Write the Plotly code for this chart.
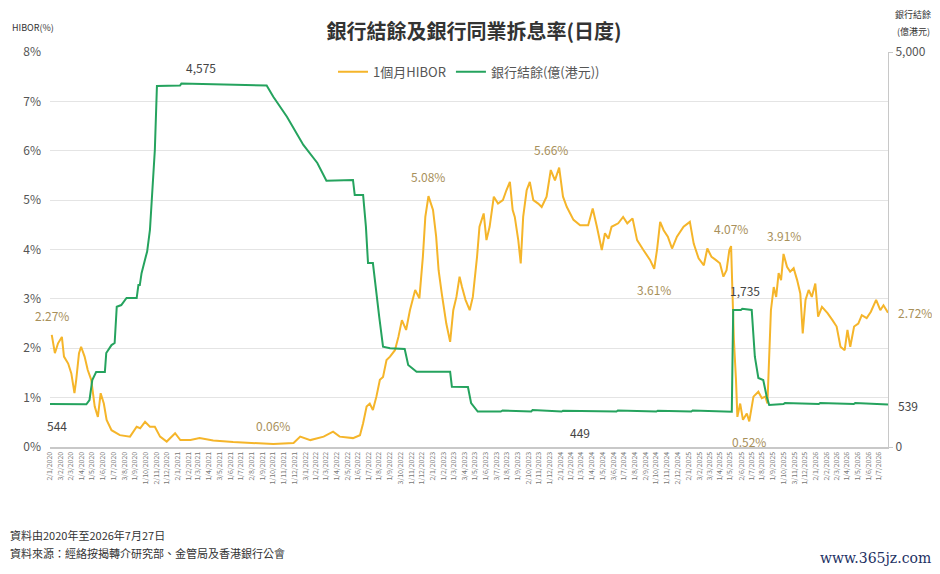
import pandas as pd
import plotly.graph_objects as go

# 1個月HIBOR (%)
hibor_dates = [
    "2020-01-07", "2020-01-16", "2020-01-25", "2020-02-05", "2020-02-11", "2020-02-23",
    "2020-03-03", "2020-03-12", "2020-03-17", "2020-03-25", "2020-03-31", "2020-04-10",
    "2020-04-19", "2020-04-29", "2020-05-09", "2020-05-18", "2020-05-26", "2020-06-04",
    "2020-06-12", "2020-06-26", "2020-07-20", "2020-08-18", "2020-09-06", "2020-09-16",
    "2020-09-30", "2020-10-14", "2020-10-28", "2020-11-12", "2020-12-01", "2020-12-25",
    "2021-01-09", "2021-02-07", "2021-03-05", "2021-04-13", "2021-06-09", "2021-08-15",
    "2021-10-02", "2021-11-29", "2021-12-18", "2022-01-16", "2022-02-23", "2022-03-22",
    "2022-04-10", "2022-05-18", "2022-06-07", "2022-06-16", "2022-06-26", "2022-07-05",
    "2022-07-14", "2022-07-24", "2022-08-03", "2022-08-12", "2022-08-22", "2022-09-01",
    "2022-09-15", "2022-09-25", "2022-10-05", "2022-10-17", "2022-10-28", "2022-11-12",
    "2022-11-24", "2022-12-04", "2022-12-11", "2022-12-20", "2023-01-02", "2023-01-11",
    "2023-01-18", "2023-01-27", "2023-02-09", "2023-02-20", "2023-03-01", "2023-03-10",
    "2023-03-19", "2023-03-26", "2023-04-05", "2023-04-17", "2023-04-26", "2023-05-08",
    "2023-05-15", "2023-05-27", "2023-06-04", "2023-06-13", "2023-06-25", "2023-07-07",
    "2023-07-21", "2023-07-31", "2023-08-10", "2023-08-18", "2023-08-24", "2023-09-03",
    "2023-09-10", "2023-09-17", "2023-09-27", "2023-10-06", "2023-10-16", "2023-10-30",
    "2023-11-09", "2023-11-23", "2023-12-05", "2023-12-17", "2023-12-29", "2024-01-09",
    "2024-01-20", "2024-02-08", "2024-02-27", "2024-03-21", "2024-04-03", "2024-04-15",
    "2024-04-29", "2024-05-08", "2024-05-18", "2024-05-27", "2024-06-15", "2024-06-29",
    "2024-07-11", "2024-07-26", "2024-08-08", "2024-08-26", "2024-09-14", "2024-09-26",
    "2024-10-04", "2024-10-13", "2024-10-23", "2024-11-04", "2024-11-16", "2024-11-30",
    "2024-12-19", "2025-01-06", "2025-01-17", "2025-01-31", "2025-02-15", "2025-02-25",
    "2025-03-09", "2025-03-21", "2025-04-02", "2025-04-12", "2025-04-21", "2025-04-29",
    "2025-05-04", "2025-05-08", "2025-05-12", "2025-05-18", "2025-05-22", "2025-05-30",
    "2025-06-07", "2025-06-18", "2025-06-25", "2025-07-07", "2025-07-21", "2025-07-31",
    "2025-08-10", "2025-08-16", "2025-08-22", "2025-08-26", "2025-09-03", "2025-09-10",
    "2025-09-17", "2025-09-24", "2025-10-01", "2025-10-11", "2025-10-20", "2025-10-30",
    "2025-11-09", "2025-11-18", "2025-11-25", "2025-12-03", "2025-12-12", "2025-12-21",
    "2025-12-31", "2026-01-08", "2026-01-19", "2026-02-04", "2026-02-18", "2026-03-02",
    "2026-03-13", "2026-03-25", "2026-04-02", "2026-04-10", "2026-04-21", "2026-05-03",
    "2026-05-13", "2026-05-27", "2026-06-08", "2026-06-23", "2026-07-05", "2026-07-14",
    "2026-07-27",
]
hibor_values = [
    2.27, 1.90, 2.10, 2.23, 1.83, 1.69,
    1.49, 1.09, 1.36, 1.90, 2.03, 1.83,
    1.56, 1.36, 0.82, 0.61, 1.09, 0.88,
    0.55, 0.34, 0.24, 0.21, 0.41, 0.38,
    0.51, 0.41, 0.41, 0.21, 0.11, 0.28,
    0.14, 0.14, 0.18, 0.13, 0.10, 0.08,
    0.06, 0.08, 0.21, 0.14, 0.21, 0.31,
    0.21, 0.18, 0.24, 0.48, 0.82, 0.88,
    0.75, 1.02, 1.36, 1.42, 1.76, 1.83,
    1.96, 2.23, 2.57, 2.37, 2.77, 3.18,
    3.01, 3.85, 4.66, 5.08, 4.80, 4.26,
    3.58, 3.11, 2.50, 2.13, 2.77, 3.04,
    3.45, 3.24, 2.98, 2.77, 3.04, 3.85,
    4.46, 4.73, 4.19, 4.46, 5.07, 4.93,
    5.00, 5.20, 5.37, 4.80, 4.66, 4.19,
    3.72, 4.66, 5.20, 5.37, 5.00, 4.93,
    4.86, 5.07, 5.61, 5.40, 5.66, 5.07,
    4.86, 4.60, 4.49, 4.49, 4.83, 4.46,
    3.99, 4.33, 4.22, 4.46, 4.53, 4.66,
    4.53, 4.63, 4.19, 3.99, 3.79, 3.61,
    3.99, 4.56, 4.39, 4.26, 4.02, 4.26,
    4.46, 4.56, 4.12, 3.82, 3.68, 4.02,
    3.85, 3.79, 3.72, 3.45, 3.58, 3.99,
    4.07, 3.11, 2.17, 1.36, 0.61, 0.88,
    0.55, 0.68, 0.52, 1.02, 1.12, 0.99,
    1.02, 0.88, 2.30, 2.77, 3.24, 3.04,
    3.52, 3.38, 3.91, 3.65, 3.55, 3.62,
    3.38, 3.11, 2.30, 2.98, 3.18, 3.04,
    3.31, 2.64, 2.84, 2.71, 2.57, 2.44,
    2.03, 1.96, 2.37, 2.03, 2.44, 2.50,
    2.67, 2.61, 2.74, 2.98, 2.77, 2.87,
    2.72,
]

# 銀行結餘 (億港元)
balance_dates = [
    "2020-01-02", "2020-04-15", "2020-04-24", "2020-05-02", "2020-05-13", "2020-06-07",
    "2020-06-11", "2020-06-26", "2020-07-05", "2020-07-11", "2020-07-24", "2020-08-08",
    "2020-09-06", "2020-09-11", "2020-09-15", "2020-09-20", "2020-10-02", "2020-10-06",
    "2020-10-14", "2020-10-21", "2020-10-28", "2020-11-03", "2021-01-08", "2021-01-12",
    "2021-09-13", "2021-10-02", "2021-11-10", "2021-12-27", "2022-02-05", "2022-03-03",
    "2022-05-18", "2022-05-23", "2022-06-16", "2022-06-24", "2022-06-30", "2022-07-14",
    "2022-07-22", "2022-08-01", "2022-08-12", "2022-09-01", "2022-10-13", "2022-10-23",
    "2022-11-16", "2023-02-20", "2023-02-25", "2023-04-12", "2023-04-21", "2023-05-10",
    "2023-07-15", "2023-07-20", "2023-10-10", "2023-10-14", "2024-01-05", "2024-01-09",
    "2024-06-10", "2024-06-14", "2024-10-02", "2024-10-06", "2025-01-10", "2025-01-14",
    "2025-05-06", "2025-05-10", "2025-06-01", "2025-06-05", "2025-07-02", "2025-07-11",
    "2025-07-21", "2025-08-04", "2025-08-14", "2025-08-21", "2025-10-01", "2025-10-05",
    "2026-01-10", "2026-01-14", "2026-04-20", "2026-04-24", "2026-07-27",
]
balance_values = [
    544, 540, 595, 848, 950, 950,
    1190, 1290, 1316, 1776, 1797, 1886,
    1886, 2050, 2050, 2200, 2409, 2473,
    2747, 3215, 3759, 4570, 4575, 4600,
    4575, 4434, 4181, 3823, 3595, 3371,
    3380, 3190, 3190, 2789, 2329, 2329,
    1987, 1650, 1270, 1250, 1240, 1038,
    953, 953, 763, 760, 557, 449,
    449, 462, 449, 468, 449, 460,
    449, 462, 449, 460, 449, 462,
    447, 1734, 1735, 1750, 1735, 1143,
    873, 848, 637, 532, 544, 556,
    544, 558, 544, 556, 539,
]

# monthly date ticks, first business day of each month
tick_dates = []
for d in pd.date_range("2020-01-01", "2026-07-31", freq="BMS"):
    if d.month == 1 and d.day == 1:
        d = d + pd.Timedelta(days=1)
    tick_dates.append(d)
tick_text = [f"{d.day}/{d.month}/{d.year}" for d in tick_dates]

CJK = "Noto Sans CJK TC, Open Sans, sans-serif"
YELLOW = "#F5B52A"
GREEN = "#25A35E"
TAN = "#A8905A"
DARK = "#444444"

fig = go.Figure()
fig.add_trace(go.Scatter(x=hibor_dates, y=hibor_values, name="1個月HIBOR", mode="lines",
                         line=dict(color=YELLOW, width=2)))
fig.add_trace(go.Scatter(x=balance_dates, y=balance_values, name="銀行結餘(億(港元))", mode="lines",
                         line=dict(color=GREEN, width=2), yaxis="y2"))

notes = [
    # x, y, text, yshift, axis, color
    ("2020-01-07", 2.27, "2.27%", 19, "y", TAN),
    ("2021-10-02", 0.06, "0.06%", 19, "y", TAN),
    ("2022-12-20", 5.08, "5.08%", 20, "y", TAN),
    ("2023-12-05", 5.66, "5.66%", 18, "y", TAN),
    ("2024-09-26", 3.61, "3.61%", -21, "y", TAN),
    ("2025-05-04", 4.07, "4.07%", 18, "y", TAN),
    ("2025-10-01", 3.91, "3.91%", 18, "y", TAN),
    ("2025-06-25", 0.52, "0.52%", -20, "y", TAN),
    ("2021-03-10", 4575, "4,575", 18, "y2", DARK),
    ("2020-01-22", 544, "544", -21, "y2", DARK),
    ("2024-02-27", 449, "449", -21, "y2", DARK),
    ("2025-06-13", 1735, "1,735", 19, "y2", DARK),
]
for x, y, t, dy, ax, c in notes:
    fig.add_annotation(x=x, y=y, xref="x", yref=ax, text=t, showarrow=False, yshift=dy,
                       xanchor="center", yanchor="middle",
                       font=dict(size=12, color=c, family=CJK))

# end labels right of the plot
fig.add_annotation(x="2026-07-27", y=2.72, xref="x", yref="y", text="2.72%", showarrow=False,
                   xanchor="left", yanchor="middle", xshift=8,
                   font=dict(size=12, color=TAN, family=CJK))
fig.add_annotation(x="2026-07-27", y=539, xref="x", yref="y2", text="539", showarrow=False,
                   xanchor="left", yanchor="middle", xshift=8, yshift=-1,
                   font=dict(size=12, color=DARK, family=CJK))

# axis titles
fig.add_annotation(x=-0.048, y=1.061, xref="paper", yref="paper", text="HIBOR(%)", showarrow=False,
                   xanchor="left", yanchor="middle", font=dict(size=9, color="#333", family=CJK))
fig.add_annotation(x=1.03, y=1.094, xref="paper", yref="paper", text="銀行結餘",
                   showarrow=False, xanchor="center", yanchor="middle",
                   font=dict(size=9, color="#333", family=CJK))
fig.add_annotation(x=1.03, y=1.051, xref="paper", yref="paper", text="(億港元)",
                   showarrow=False, xanchor="center", yanchor="middle",
                   font=dict(size=9, color="#333", family=CJK))

# footnotes
fig.add_annotation(x=-0.05, y=-0.223, xref="paper", yref="paper", text="資料由2020年至2026年7月27日",
                   showarrow=False, xanchor="left", yanchor="middle",
                   font=dict(size=11, color="#333", family=CJK))
fig.add_annotation(x=-0.05, y=-0.268, xref="paper", yref="paper",
                   text="資料來源：經絡按揭轉介研究部、金管局及香港銀行公會",
                   showarrow=False, xanchor="left", yanchor="middle",
                   font=dict(size=11, color="#333", family=CJK))
fig.add_annotation(x=0.985, y=-0.281, xref="paper", yref="paper", text="www.365jz.com",
                   showarrow=False, xanchor="center", yanchor="middle",
                   font=dict(size=14, color="#233163", family="DejaVu Serif"))

# page body has an 8px margin, so the figure is 8px smaller each way
fig.update_layout(
    width=932, height=566,
    margin=dict(l=42, r=52, t=44, b=127),
    paper_bgcolor="white", plot_bgcolor="white",
    title=dict(text="<b>銀行結餘及銀行同業拆息率(日度)</b>", x=0.5, xanchor="center",
               y=0.958, yanchor="middle", font=dict(size=20, color="#333", family=CJK)),
    font=dict(family=CJK, color="#555"),
    showlegend=True,
    legend=dict(orientation="h", x=0.5, xanchor="center", y=0.95, yanchor="middle",
                font=dict(size=13, color="#555", family=CJK), bgcolor="rgba(0,0,0,0)",
                itemwidth=30),
    xaxis=dict(type="date", range=["2020-01-02", "2026-07-27"], tickvals=tick_dates,
               ticktext=tick_text, tickangle=-90, tickfont=dict(size=7, color="#777"),
               showgrid=False, showline=True, linecolor="#c8c8c8", linewidth=2, ticks="",
               zeroline=False),
    yaxis=dict(range=[0, 8], dtick=1, ticksuffix="%", tickfont=dict(size=12, color="#555"),
               showgrid=True, gridcolor="#e4e4e4", gridwidth=1, zeroline=False, showline=False,
               ticks="", ticklabelstandoff=8),
    yaxis2=dict(range=[0, 5000], overlaying="y", side="right", tickvals=[0, 5000],
                ticktext=["0", "5,000"], tickfont=dict(size=12, color="#555"), showgrid=False,
                showline=True, linecolor="#c8c8c8", linewidth=1, ticks="outside", ticklen=4,
                tickcolor="#c8c8c8", zeroline=False),
)

fig.write_html("out.html")
